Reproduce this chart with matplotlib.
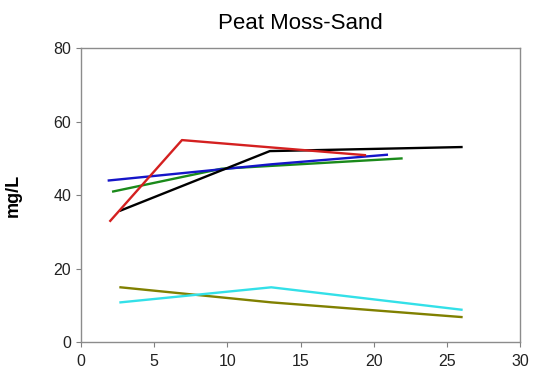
import matplotlib
matplotlib.use('Agg')
import matplotlib.pyplot as plt

# series (x = time, y = mg/L)
red_x = [2.0, 6.9, 19.4]
red_y = [33.0, 55.0, 50.9]
black_x = [2.7, 12.9, 26.0]
black_y = [35.8, 52.0, 53.1]
blue_x = [1.9, 13.0, 20.9]
blue_y = [44.0, 48.4, 51.0]
green_x = [2.2, 9.6, 21.9]
green_y = [41.0, 47.2, 50.0]
cyan_x = [2.7, 13.0, 26.0]
cyan_y = [10.8, 14.9, 8.8]
olive_x = [2.7, 13.0, 26.0]
olive_y = [14.9, 10.8, 6.8]

x_ticks = [0, 5, 10, 15, 20, 25, 30]
y_ticks = [0, 20, 40, 60, 80]

plt.rcParams['font.family'] = ['Liberation Sans', 'DejaVu Sans']

fig = plt.figure(figsize=(5.34, 3.77), dpi=100)
ax = fig.add_axes([0.1517, 0.0928, 0.8221, 0.7791])

lw = 1.7
ax.plot(olive_x, olive_y, color='#808000', lw=lw)
ax.plot(cyan_x, cyan_y, color='#33e0e8', lw=lw)
ax.plot(green_x, green_y, color='#1a8a1a', lw=lw)
ax.plot(blue_x, blue_y, color='#1515c8', lw=lw)
ax.plot(black_x, black_y, color='black', lw=lw)
ax.plot(red_x, red_y, color='#d42020', lw=lw)

ax.set_xlim(0, 30)
ax.set_ylim(0, 80)
ax.set_xticks(x_ticks)
ax.set_yticks(y_ticks)
ax.tick_params(axis='both', direction='out', length=3.5, width=0.8, color='#808080',
               labelsize=11.5, labelcolor='#222222', top=False, right=False)
ax.tick_params(axis='x', pad=5)
for side in ['left', 'bottom', 'top', 'right']:
    ax.spines[side].set_color('#8c8c8c')
    ax.spines[side].set_linewidth(1.0)

ax.set_ylabel('mg/L', fontsize=13, fontweight='bold', labelpad=23)
ax.set_title('Peat Moss-Sand', fontsize=16, pad=14)

fig.savefig('out.png', dpi=100)
